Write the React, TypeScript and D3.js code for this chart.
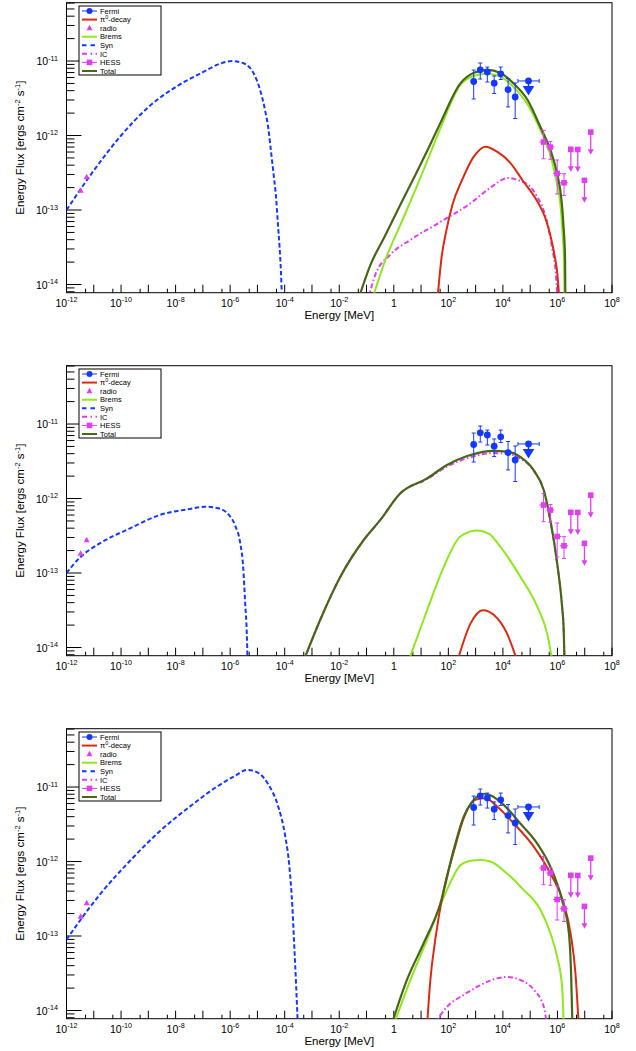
import React from "react";
import * as d3 from "d3";

type P = [number, number]; // [log10 E(MeV), log10 Flux]

// ---------------- model curves (log10 E, log10 E^2dN/dE) ----------------
const synTop: P[] = [[-12,-13.0],[-11,-12.47],[-10,-12.0],[-9,-11.62],[-8,-11.35],[-7,-11.15],[-6.4,-11.04],[-5.93,-11.0],[-5.51,-11.03],[-5.14,-11.165],[-4.9,-11.39],[-4.72,-11.66],[-4.59,-11.93],[-4.51,-12.19],[-4.41,-12.51],[-4.32,-12.82],[-4.25,-13.18],[-4.19,-13.49],[-4.14,-13.81],[-4.1,-14.2]];
const icTop: P[] = [[-0.94,-14.2],[-0.68,-13.87],[-0.13,-13.6],[0.61,-13.4],[1.71,-13.16],[2.81,-12.91],[3.54,-12.7],[4.2,-12.57],[4.64,-12.61],[5.01,-12.69],[5.27,-12.83],[5.49,-13.0],[5.67,-13.24],[5.82,-13.54],[5.93,-13.81],[6.0,-14.2]];
const bremsTop: P[] = [[-0.79,-14.2],[-0.31,-13.67],[0.24,-13.2],[0.79,-12.73],[1.27,-12.3],[1.71,-11.9],[2.44,-11.32],[2.92,-11.2],[3.43,-11.17],[3.91,-11.21],[4.39,-11.35],[4.9,-11.58],[5.38,-11.93],[5.74,-12.26],[5.96,-12.6],[6.11,-12.93],[6.18,-13.27],[6.24,-13.67],[6.26,-14.2]];
const pi0Top: P[] = [[1.6,-14.2],[1.74,-13.67],[1.93,-13.27],[2.15,-12.93],[2.5,-12.6],[2.92,-12.29],[3.36,-12.15],[3.8,-12.22],[4.28,-12.37],[4.72,-12.6],[5.27,-12.89],[5.56,-13.11],[5.74,-13.34],[5.89,-13.6],[6.0,-13.87],[6.07,-14.2]];
const totalTop: P[] = [[-1.3,-14.2],[-0.86,-13.74],[-0.31,-13.34],[0.24,-12.93],[0.79,-12.53],[1.27,-12.17],[1.71,-11.83],[2.44,-11.3],[2.92,-11.16],[3.43,-11.12],[3.91,-11.16],[4.39,-11.3],[4.9,-11.52],[5.38,-11.89],[5.74,-12.19],[6.0,-12.53],[6.15,-12.87],[6.22,-13.2],[6.28,-13.67],[6.29,-14.2]];

const synMid: P[] = [[-12,-13.0],[-11.5,-12.79],[-10.77,-12.6],[-9.67,-12.4],[-8.57,-12.22],[-7.47,-12.14],[-6.92,-12.11],[-6.44,-12.13],[-6.07,-12.21],[-5.82,-12.36],[-5.63,-12.6],[-5.52,-12.93],[-5.45,-13.4],[-5.39,-13.81],[-5.36,-14.2]];
const icMid: P[] = [[-3.33,-14.2],[-2.7,-13.63],[-1.96,-13.05],[-1.11,-12.56],[-0.5,-12.29],[0.24,-11.93],[1.22,-11.74],[1.95,-11.57],[2.69,-11.46],[3.66,-11.39],[4.15,-11.4],[4.64,-11.46],[5.13,-11.63],[5.5,-11.9],[5.74,-12.3],[5.99,-12.88],[6.17,-13.46],[6.23,-13.78],[6.26,-14.2]];
const bremsMid: P[] = [[0.52,-14.2],[1.22,-13.5],[1.83,-12.92],[2.44,-12.51],[3.05,-12.43],[3.48,-12.47],[3.91,-12.65],[4.64,-13.05],[5.26,-13.45],[5.62,-13.81],[5.82,-14.2]];
const pi0Mid: P[] = [[2.32,-14.2],[2.81,-13.68],[3.27,-13.5],[3.66,-13.56],[4.15,-13.81],[4.54,-14.2]];
const totalMid: P[] = [[-3.33,-14.2],[-2.7,-13.63],[-1.96,-13.05],[-1.11,-12.56],[-0.5,-12.29],[0.24,-11.93],[1.22,-11.73],[1.95,-11.55],[2.69,-11.43],[3.66,-11.36],[4.15,-11.37],[4.64,-11.44],[5.13,-11.62],[5.5,-11.89],[5.74,-12.29],[5.99,-12.87],[6.17,-13.45],[6.23,-13.77],[6.26,-14.2]];

const synBot: P[] = [[-12,-13.05],[-11.5,-12.79],[-10.77,-12.44],[-9.67,-11.99],[-8.57,-11.59],[-7.47,-11.26],[-6.55,-11.01],[-5.82,-10.85],[-5.38,-10.77],[-4.97,-10.81],[-4.61,-10.96],[-4.24,-11.26],[-3.98,-11.66],[-3.83,-12.06],[-3.72,-12.6],[-3.65,-13.13],[-3.58,-13.67],[-3.52,-14.2]];
const icBot: P[] = [[1.46,-14.2],[1.95,-13.95],[2.56,-13.79],[3.17,-13.66],[3.66,-13.58],[4.15,-13.55],[4.64,-13.59],[5.13,-13.72],[5.5,-13.95],[5.62,-14.2]];
const bremsBot: P[] = [[-0.01,-14.2],[0.61,-13.59],[1.22,-13.05],[1.95,-12.38],[2.44,-12.05],[2.81,-11.99],[3.17,-11.98],[3.54,-12.0],[4.15,-12.16],[4.76,-12.38],[5.38,-12.65],[5.74,-12.96],[5.99,-13.28],[6.17,-13.68],[6.23,-14.2]];
const pi0Bot: P[] = [[1.22,-14.2],[1.34,-13.59],[1.52,-13.05],[1.83,-12.38],[2.19,-11.88],[2.56,-11.42],[2.99,-11.17],[3.36,-11.15],[3.79,-11.26],[4.4,-11.49],[5.13,-11.8],[5.74,-12.16],[6.23,-12.56],[6.48,-12.96],[6.66,-13.5],[6.78,-14.2]];
const totalBot: P[] = [[-0.09,-14.2],[0.48,-13.59],[1.09,-13.1],[1.71,-12.56],[2.19,-11.85],[2.56,-11.4],[2.87,-11.2],[3.3,-11.09],[3.54,-11.11],[4.03,-11.24],[4.64,-11.49],[5.26,-11.76],[5.74,-12.07],[6.17,-12.52],[6.42,-12.96],[6.5,-13.5],[6.55,-14.2]];

// ---------------- measurements ----------------
const fermiE = [850, 1480, 2690, 4790, 8320, 15500, 28200];
const fermiF = [5.31e-12, 7.62e-12, 7.12e-12, 5.04e-12, 6.73e-12, 4.14e-12, 3.29e-12];
const fermiFHi = [7.57e-12, 9.4e-12, 8.3e-12, 6.3e-12, 8.3e-12, 5.82e-12, 5.07e-12];
const fermiFLo = [3.09e-12, 5.73e-12, 5.22e-12, 3.66e-12, 5.65e-12, 2.42e-12, 1.69e-12];
const fermiUlE = [87000];
const fermiUlEMin = [35500];
const fermiUlEMax = [214000];
const fermiUlF = [5.4e-12];

const hessE = [3.09e5, 5.5e5, 9.77e5, 1.74e6];
const hessEMin = [2.19e5, 3.9e5, 6.9e5, 1.23e6];
const hessEMax = [4.36e5, 7.8e5, 1.38e6, 2.46e6];
const hessF = [8.18e-13, 7.0e-13, 3.09e-13, 2.32e-13];
const hessFHi = [1.17e-12, 8.3e-13, 4.69e-13, 3.07e-13];
const hessFLo = [4.89e-13, 4.8e-13, 1.64e-13, 1.57e-13];
const hessUlE = [3.09e6, 5.56e6, 9.77e6, 1.66e7];
const hessUlF = [6.53e-13, 6.5e-13, 2.5e-13, 1.11e-12];

const radioE = [3.3e-12, 5.5e-12];
const radioF = [1.82e-13, 2.75e-13];

const legendLabels = ["Fermi", "π0-decay", "radio", "Brems", "Syn", "IC", "HESS", "Total"];
const xLabelExps = [-12, -10, -8, -6, -4, -2, 0, 2, 4, 6, 8];
const yLabelExps = [-14, -13, -12, -11];

const panels = [
  { syn: synTop, ic: icTop, brems: bremsTop, pi0: pi0Top, total: totalTop },
  { syn: synMid, ic: icMid, brems: bremsMid, pi0: pi0Mid, total: totalMid },
  { syn: synBot, ic: icBot, brems: bremsBot, pi0: pi0Bot, total: totalBot },
];

// ---------------- style ----------------
const W = 636, H = 1051;
const PANEL_DY = 363;
const X0 = 66.5, X1 = 612, Y0 = 2.7, Y1 = 292.7;
const BLUE = "#1438ff", RED = "#dc2a12", MAG = "#e03ef0", GREEN = "#8ee81e", DARK = "#476617";
const FONT = "'Liberation Sans', Arial, Helvetica, sans-serif";
const DASH_SYN = "4.5,2.5";
const DASH_IC = "5,2.5,1.5,2.5";

function Sup({ base, exp, ...rest }: any) {
  return (
    <text {...rest}>
      {base}
      <tspan dy={-4.5} fontSize={7.2}>{exp}</tspan>
    </text>
  );
}

function Panel({ idx, c }: { idx: number; c: any }) {
  const dy = idx * PANEL_DY;
  const x = d3.scaleLog().domain([1e-12, 1e8]).range([X0, X1]);
  const y = d3.scaleLog().domain([Math.pow(10, -14.11), Math.pow(10, -10.217)]).range([Y1, Y0]);
  const line = d3
    .line<P>()
    .x((d) => x(Math.pow(10, d[0])))
    .y((d) => y(Math.pow(10, d[1])))
    .curve(d3.curveMonotoneX);

  const xMajor = d3.range(-12, 9).map((e) => Math.pow(10, e));
  const xMinor = d3.range(-12, 8).map((e) => 5 * Math.pow(10, e));
  const yMajor = yLabelExps.map((e) => Math.pow(10, e));
  const yMinor: number[] = [];
  for (let e = -15; e <= -11; e++)
    for (let m = 2; m <= 9; m++) {
      const v = m * Math.pow(10, e);
      if (v >= y.domain()[0] && v <= y.domain()[1]) yMinor.push(v);
    }

  const clipId = `clip${idx}`;
  const cap = 2;

  const legY = (i: number) => 11 + i * 8.57;
  const legX0 = 82, legX1 = 97, legTx = 100;

  return (
    <g transform={`translate(0,${dy})`}>
      <defs>
        <clipPath id={clipId}>
          <rect x={X0} y={Y0} width={X1 - X0} height={Y1 - Y0} />
        </clipPath>
      </defs>
      {/* frame */}
      <rect x={X0} y={Y0} width={X1 - X0} height={Y1 - Y0} fill="white" stroke="black" strokeWidth={1} />
      {/* x ticks */}
      {xMajor.map((v, i) => (
        <line key={"xM" + i} x1={x(v)} x2={x(v)} y1={Y1} y2={Y1 - 8} stroke="black" strokeWidth={1} />
      ))}
      {xMinor.map((v, i) => (
        <line key={"xm" + i} x1={x(v)} x2={x(v)} y1={Y1} y2={Y1 - 4} stroke="black" strokeWidth={1} />
      ))}
      {/* y ticks */}
      {yMajor.map((v, i) => (
        <line key={"yM" + i} x1={X0} x2={X0 + 15} y1={y(v)} y2={y(v)} stroke="black" strokeWidth={1} />
      ))}
      {yMinor.map((v, i) => (
        <line key={"ym" + i} x1={X0} x2={X0 + 8} y1={y(v)} y2={y(v)} stroke="black" strokeWidth={1} />
      ))}
      {/* x labels */}
      {xLabelExps.map((e) =>
        e === 0 ? (
          <text key={"xl" + e} x={x(1)} y={Y1 + 14} fontSize={10.5} fontFamily={FONT} textAnchor="middle">1</text>
        ) : (
          <Sup key={"xl" + e} base="10" exp={String(e)} x={x(Math.pow(10, e))} y={Y1 + 14} fontSize={10.5} fontFamily={FONT} textAnchor="middle" />
        )
      )}
      {/* y labels */}
      {yLabelExps.map((e) => (
        <Sup key={"yl" + e} base="10" exp={String(e)} x={58} y={y(Math.pow(10, e)) + 4} fontSize={10.5} fontFamily={FONT} textAnchor="end" />
      ))}
      {/* axis titles */}
      <text x={(X0 + X1) / 2} y={Y1 + 26} fontSize={11.5} fontFamily={FONT} textAnchor="middle">Energy [MeV]</text>
      <text transform={`translate(24,${(Y0 + Y1) / 2}) rotate(-90)`} fontSize={11.5} fontFamily={FONT} textAnchor="middle">
        Energy Flux [ergs cm<tspan dy={-4.5} fontSize={7.5}>-2</tspan>
        <tspan dy={4.5}> s</tspan>
        <tspan dy={-4.5} fontSize={7.5}>-1</tspan>
        <tspan dy={4.5}>]</tspan>
      </text>

      {/* curves */}
      <g clipPath={`url(#${clipId})`} fill="none">
        <path d={line(c.syn) || ""} stroke={BLUE} strokeWidth={2} strokeDasharray={DASH_SYN} />
        <path d={line(c.ic) || ""} stroke={MAG} strokeWidth={2} strokeDasharray={DASH_IC} />
        <path d={line(c.brems) || ""} stroke={GREEN} strokeWidth={2} />
        <path d={line(c.pi0) || ""} stroke={RED} strokeWidth={2} />
        <path d={line(c.total) || ""} stroke={DARK} strokeWidth={2.2} />
      </g>

      {/* radio */}
      {radioE.map((e, i) => {
        const cx = x(e), cy = y(radioF[i]);
        return <path key={"r" + i} d={`M${cx},${cy - 3.5}L${cx + 3},${cy + 2}L${cx - 3},${cy + 2}Z`} fill={MAG} />;
      })}

      {/* Fermi */}
      {fermiE.map((e, i) => {
        const cx = x(e), cy = y(fermiF[i]), yh = y(fermiFHi[i]), yl = y(fermiFLo[i]);
        return (
          <g key={"f" + i} stroke={BLUE} strokeWidth={1}>
            <line x1={cx} x2={cx} y1={yh} y2={yl} />
            <line x1={cx - cap} x2={cx + cap} y1={yh} y2={yh} />
            <line x1={cx - cap} x2={cx + cap} y1={yl} y2={yl} />
            <circle cx={cx} cy={cy} r={3.4} fill={BLUE} stroke="none" />
          </g>
        );
      })}
      {fermiUlE.map((e, i) => {
        const cx = x(e), cy = y(fermiUlF[i]), xa = x(fermiUlEMin[i]), xb = x(fermiUlEMax[i]);
        return (
          <g key={"fu" + i} stroke={BLUE} strokeWidth={1}>
            <line x1={xa} x2={xb} y1={cy} y2={cy} />
            <line x1={xa} x2={xa} y1={cy - cap} y2={cy + cap} />
            <line x1={xb} x2={xb} y1={cy - cap} y2={cy + cap} />
            <line x1={cx} x2={cx} y1={cy} y2={cy + 6} strokeWidth={1.5} />
            <circle cx={cx} cy={cy} r={3.4} fill={BLUE} stroke="none" />
            <path d={`M${cx - 5.8},${cy + 5}L${cx + 5.8},${cy + 5}L${cx},${cy + 14.5}Z`} fill={BLUE} stroke="none" />
          </g>
        );
      })}

      {/* HESS */}
      {hessE.map((e, i) => {
        const cx = x(e), cy = y(hessF[i]), yh = y(hessFHi[i]), yl = y(hessFLo[i]);
        return (
          <g key={"h" + i} stroke={MAG} strokeWidth={1}>
            <line x1={cx} x2={cx} y1={yh} y2={yl} />
            <line x1={cx - cap} x2={cx + cap} y1={yh} y2={yh} />
            <line x1={cx - cap} x2={cx + cap} y1={yl} y2={yl} />
            <line x1={x(hessEMin[i])} x2={x(hessEMax[i])} y1={cy} y2={cy} />
            <rect x={cx - 2.8} y={cy - 2.8} width={5.6} height={5.6} fill={MAG} stroke="none" />
          </g>
        );
      })}
      {hessUlE.map((e, i) => {
        const cx = x(e), cy = y(hessUlF[i]);
        return (
          <g key={"hu" + i}>
            <line x1={cx} x2={cx} y1={cy} y2={cy + 18} stroke={MAG} strokeWidth={1.3} />
            <path d={`M${cx - 3},${cy + 17}L${cx + 3},${cy + 17}L${cx},${cy + 22.5}Z`} fill={MAG} />
            <rect x={cx - 2.8} y={cy - 2.8} width={5.6} height={5.6} fill={MAG} />
          </g>
        );
      })}

      {/* legend */}
      <rect x={79} y={6} width={82} height={69} fill="white" stroke="black" strokeWidth={1} />
      <g fontFamily={FONT} fontSize={7.5}>
        {legendLabels.map((lab, i) => {
          const ly = legY(i);
          const mid = (legX0 + legX1) / 2;
          let sym: any = null;
          if (lab === "Fermi")
            sym = (
              <g>
                <line x1={legX0} x2={legX1} y1={ly} y2={ly} stroke={BLUE} strokeWidth={1} />
                <circle cx={mid} cy={ly} r={3} fill={BLUE} />
              </g>
            );
          else if (lab === "π0-decay") sym = <line x1={legX0} x2={legX1} y1={ly} y2={ly} stroke={RED} strokeWidth={2} />;
          else if (lab === "radio") sym = <path d={`M${mid},${ly - 3.5}L${mid + 3},${ly + 2}L${mid - 3},${ly + 2}Z`} fill={MAG} />;
          else if (lab === "Brems") sym = <line x1={legX0} x2={legX1} y1={ly} y2={ly} stroke={GREEN} strokeWidth={2} />;
          else if (lab === "Syn") sym = <line x1={legX0} x2={legX1} y1={ly} y2={ly} stroke={BLUE} strokeWidth={2} strokeDasharray="4.5,4" />;
          else if (lab === "IC") sym = <line x1={legX0} x2={legX1} y1={ly} y2={ly} stroke={MAG} strokeWidth={2} strokeDasharray="5,3.5,1.5,3.5" />;
          else if (lab === "HESS")
            sym = (
              <g>
                <line x1={legX0} x2={legX1} y1={ly} y2={ly} stroke={MAG} strokeWidth={1} />
                <rect x={mid - 2.8} y={ly - 2.8} width={5.6} height={5.6} fill={MAG} />
              </g>
            );
          else sym = <line x1={legX0} x2={legX1} y1={ly} y2={ly} stroke={DARK} strokeWidth={2} />;
          return (
            <g key={lab}>
              {sym}
              {lab === "π0-decay" ? (
                <text x={legTx} y={ly + 2.7}>
                  π<tspan dy={-3} fontSize={5.5}>0</tspan>
                  <tspan dy={3}>-decay</tspan>
                </text>
              ) : (
                <text x={legTx} y={ly + 2.7}>{lab}</text>
              )}
            </g>
          );
        })}
      </g>
    </g>
  );
}

export default function App() {
  return (
    <svg width={W} height={H} style={{ position: "absolute", left: 0, top: 0, background: "white" }}>
      <rect width={W} height={H} fill="white" />
      {panels.map((c, i) => (
        <Panel key={i} idx={i} c={c} />
      ))}
    </svg>
  );
}
